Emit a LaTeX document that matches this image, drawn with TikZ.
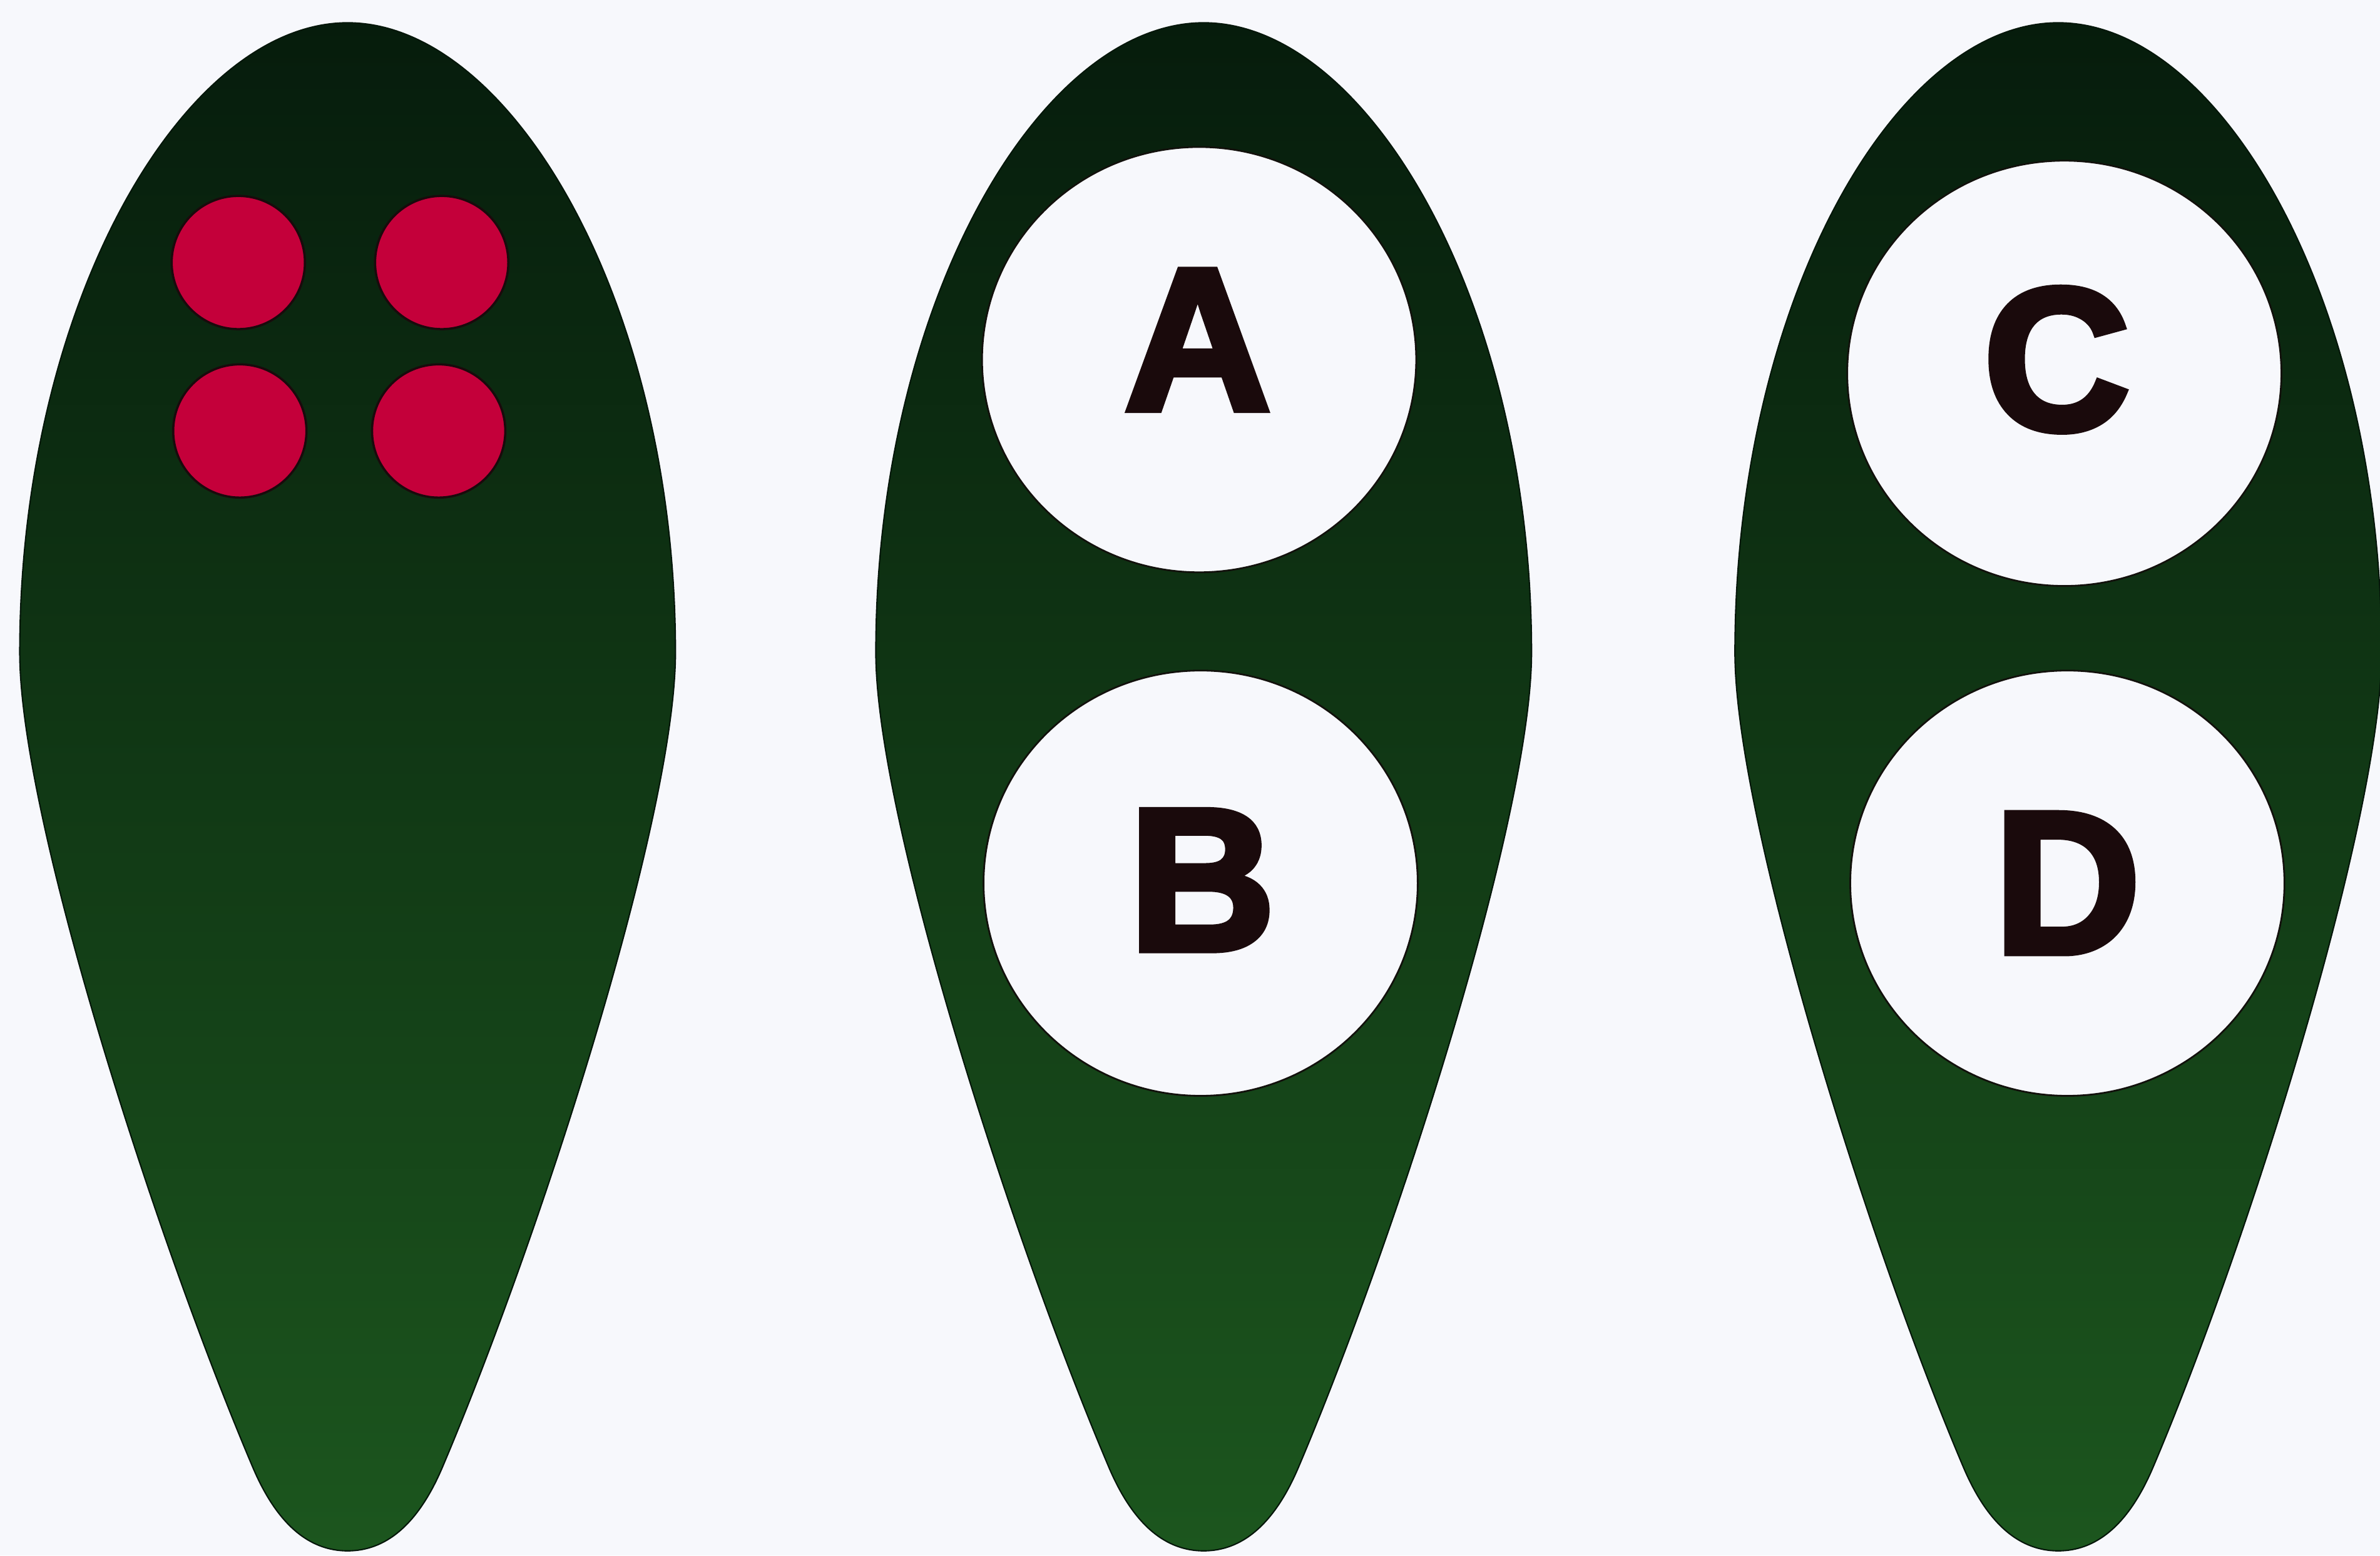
\documentclass[tikz,border=0pt]{standalone}
\usepackage{fontspec}
\setmainfont{Liberation Sans}
\newfontfamily\letterfont{Liberation Sans Bold}[FakeBold=3.5]
\usetikzlibrary{shapes.geometric}
\definecolor{bgwhite}{HTML}{F7F8FC}
\definecolor{leaftop}{HTML}{061C0C}
\definecolor{leafmid}{HTML}{0B3114}
\definecolor{leafbot}{HTML}{1C561E}
\definecolor{dotred}{HTML}{C4003A}
\definecolor{inkdark}{HTML}{1A0A0C}
\newcommand\leafshape[2]{%
  (#1,15) .. controls ({#1-108},15) and ({#1-#2},200) .. ({#1-#2},430)
  .. controls ({#1-#2},540) and ({#1-125},820) .. ({#1-62},968)
  .. controls ({#1-46},1005) and ({#1-25},1022) .. (#1,1022)
  .. controls ({#1+25},1022) and ({#1+46},1005) .. ({#1+62},968)
  .. controls ({#1+125},820) and ({#1+#2},540) .. ({#1+#2},430)
  .. controls ({#1+#2},200) and ({#1+108},15) .. (#1,15) -- cycle}
\begin{document}
\begin{tikzpicture}[x=0.024254cm,y=-0.024254cm,
  leaf/.style={top color=leaftop,middle color=leafmid,bottom color=leafbot,draw=leaftop!80!black,line width=0.6pt},
  hole/.style={ellipse,fill=bgwhite,draw=inkdark!60!leaftop,line width=0.8pt,minimum width=6.94cm,minimum height=6.8cm,inner sep=0pt},
  reddot/.style={circle,fill=dotred,draw=inkdark,line width=1pt,minimum size=2.13cm,inner sep=0pt},
  letter/.style={inner sep=0pt,text=inkdark,font=\fontsize{92}{92}\letterfont}]
\fill[bgwhite] (0,0) rectangle (1568,1025);
\useasboundingbox (0,0) rectangle (1568,1025);
\shade[leaf] \leafshape{229}{216};
\shade[leaf] \leafshape{793}{216};
\shade[leaf] \leafshape{1356}{213};
\node[reddot] (d1) at (157,173) {};
\node[reddot] (d2) at (291,173) {};
\node[reddot] (d3) at (158,284) {};
\node[reddot] (d4) at (289,284) {};
\node[hole] (ha) at (790,237) {};
\node[hole] (hb) at (791,582) {};
\node[hole] (hc) at (1360,246) {};
\node[hole] (hd) at (1362,582) {};
\node[letter] (la) at (789,224) {A};
\node[letter] (lb) at (792,580) {B};
\node[letter] (lc) at (1355,237) {C};
\node[letter] (ld) at (1362,582) {D};
\end{tikzpicture}
\end{document}
